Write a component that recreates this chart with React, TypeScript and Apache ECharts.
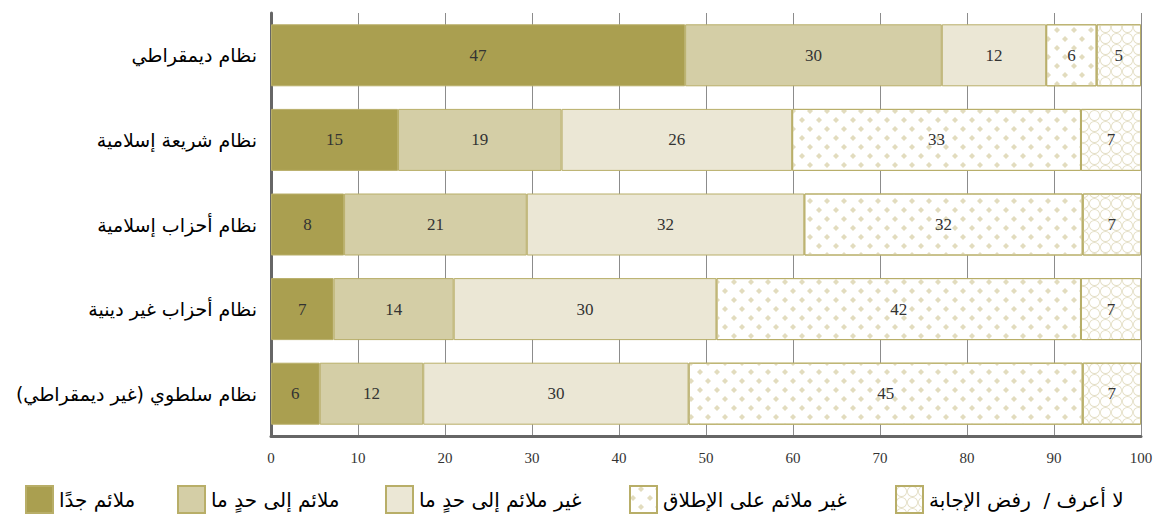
import { useEffect, useRef } from "react";
import * as echarts from "echarts";

const categories = [
  "نظام ديمقراطي",
  "نظام شريعة إسلامية",
  "نظام أحزاب إسلامية",
  "نظام أحزاب غير دينية",
  "نظام سلطوي (غير ديمقراطي)",
];

const seriesNames = [
  "ملائم جدًا",
  "ملائم إلى حدٍ ما",
  "غير ملائم إلى حدٍ ما",
  "غير ملائم على الإطلاق",
  "لا أعرف /  رفض الإجابة",
];

const verySuitable = [47.6, 14.6, 8.4, 7.2, 5.6];
const somewhatSuitable = [29.5, 18.8, 21.0, 13.8, 11.9];
const somewhatUnsuitable = [12.0, 26.5, 31.9, 30.2, 30.5];
const totallyUnsuitable = [5.8, 33.2, 32.0, 41.9, 45.3];
const dontKnow = [5.1, 6.9, 6.7, 6.9, 6.7];

const verySuitableLabels = [47, 15, 8, 7, 6];
const somewhatSuitableLabels = [30, 19, 21, 14, 12];
const somewhatUnsuitableLabels = [12, 26, 32, 30, 30];
const totallyUnsuitableLabels = [6, 33, 32, 42, 45];
const dontKnowLabels = [5, 7, 7, 7, 7];

const xMin = 0;
const xMax = 100;
const xInterval = 10;

const legendLefts = [25, 177, 385, 629, 895];

const ARABIC_FONT = "'DejaVu Sans', 'Noto Sans', sans-serif";
const NUM_FONT = "'Liberation Serif', 'DejaVu Serif', serif";

const ringPath =
  "path://M10,0A10,10,0,1,1,10,20A10,10,0,1,1,10,0ZM10,1.6A8.4,8.4,0,1,0,10,18.4A8.4,8.4,0,1,0,10,1.6Z";

export default function App() {
  const ref = useRef<HTMLDivElement>(null);

  useEffect(() => {
    if (!ref.current) return;
    const chart = echarts.init(ref.current, null, { renderer: "svg" });

    const values = [verySuitable, somewhatSuitable, somewhatUnsuitable, totallyUnsuitable, dontKnow];
    const labels = [
      verySuitableLabels,
      somewhatSuitableLabels,
      somewhatUnsuitableLabels,
      totallyUnsuitableLabels,
      dontKnowLabels,
    ];
    const colors = ["#aa9f50", "#d4cea6", "#ebe7d5", "#ffffff", "#ffffff"];
    const borderColor = "#b8ae68";
    const decals: any[] = [
      null,
      null,
      null,
      {
        symbol: "diamond",
        symbolSize: 1,
        color: "#e2dcbe",
        dashArrayX: [
          [6, 11],
          [0, 8, 6, 3],
        ],
        dashArrayY: [6, 3],
      },
      {
        symbol: ringPath,
        symbolSize: 1,
        color: "#e4dfc6",
        dashArrayX: [11, 0],
        dashArrayY: [11, 0],
      },
    ];

    const series = seriesNames.map((name, si) => ({
      name,
      type: "bar",
      stack: "total",
      barWidth: 62,
      data: values[si],
      itemStyle: {
        color: colors[si],
        borderColor,
        borderWidth: 1,
        ...(decals[si] ? { decal: decals[si] } : {}),
      },
      label: {
        show: true,
        position: "inside",
        fontFamily: NUM_FONT,
        fontSize: 17,
        color: "#333",
        formatter: (p: any) => String(labels[si][p.dataIndex]),
      },
      emphasis: { disabled: true },
    }));

    const legends = seriesNames.map((name, i) => ({
      data: [name],
      left: legendLefts[i],
      top: 485,
      padding: 0,
      icon: "rect",
      itemWidth: 27,
      itemHeight: 27,
      itemGap: 0,
      selectedMode: false,
      textStyle: { fontFamily: ARABIC_FONT, fontSize: 20, color: "#000", padding: [0, 0, 0, 1] },
    }));

    chart.setOption({
      animation: false,
      backgroundColor: "#ffffff",
      grid: { left: 271, right: 25, top: 13, bottom: 83, containLabel: false },
      legend: legends,
      xAxis: {
        type: "value",
        min: xMin,
        max: xMax,
        interval: xInterval,
        axisLine: { show: true, lineStyle: { color: "#666", width: 3 } },
        axisTick: { show: false },
        splitLine: { show: true, lineStyle: { color: "#8c8c8c", width: 1 } },
        axisLabel: { fontFamily: NUM_FONT, fontSize: 15, color: "#333", margin: 14 },
      },
      yAxis: {
        type: "category",
        inverse: true,
        data: categories,
        axisLine: { show: true, lineStyle: { color: "#666", width: 3 } },
        axisTick: { show: false },
        axisLabel: { fontFamily: ARABIC_FONT, fontSize: 19, color: "#000", margin: 14 },
      },
      series,
    });

    return () => chart.dispose();
  }, []);

  return (
    <div
      ref={ref}
      style={{ position: "fixed", left: 0, top: 0, width: 1166, height: 519, background: "#fff" }}
    />
  );
}
